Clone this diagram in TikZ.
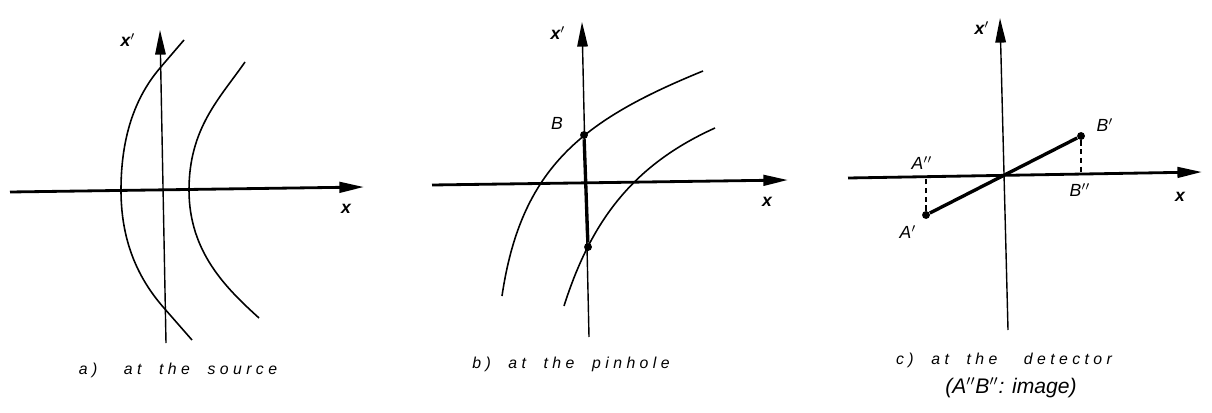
\documentclass[tikz,border=0pt]{standalone}
\usepackage{fontspec}
\newfontfamily\letterfont[LetterSpace=28]{Liberation Sans}
\newfontfamily\plainletter{Liberation Sans}
\usetikzlibrary{arrows.meta}

\begin{document}
\begin{tikzpicture}[x=0.02cm,y=-0.02cm,
  axis/.style={line width=1.6pt,-{Triangle[length=14pt,width=6pt]}},
  vaxis/.style={line width=0.8pt,-{Triangle[length=14pt,width=6pt]}},
  wave/.style={line width=0.9pt},
  ray/.style={line width=1.9pt},
  drop/.style={line width=0.6pt,dash pattern=on 3pt off 2pt},
  dot/.style={circle,fill,inner sep=0pt,minimum size=4.5pt},
  lbl/.style={font=\plainletter\itshape\fontsize{10}{11}\selectfont,inner sep=1pt},
  caption/.style={font=\letterfont\itshape\fontsize{9}{10}\selectfont,inner sep=0pt}]
  \useasboundingbox (0,0) rectangle (1212,412);

  % a) at the source
  \coordinate (ax0) at (10,192);  \coordinate (ax1) at (364,187);
  \coordinate (ay0) at (166,343); \coordinate (ay1) at (160,30);
  \draw[axis] (ax0) -- (ax1);
  \draw[vaxis] (ay0) -- (ay1);
  \draw[wave] (184,40) -- (160,68) .. controls (131,102) and (121,145) .. (121,190)
    .. controls (121,235) and (134,274) .. (164,308) -- (192,340);
  \draw[wave] (245,62) .. controls (220,98) and (189,128) .. (189,190)
    .. controls (189,252) and (226,288) .. (259,318);
  \node[lbl] (axl) at (128,40) {\bfseries x$'$};
  \node[lbl] (axx) at (346,209) {\bfseries x};
  \node[caption] (capa) at (178,370) {a)\ \ \ at\ \ the\ \ source};

  % b) at the pinhole
  \coordinate (bx0) at (432,185); \coordinate (bx1) at (788,180);
  \coordinate (by0) at (589,337); \coordinate (by1) at (582,22);
  \draw[axis] (bx0) -- (bx1);
  \draw[vaxis] (by0) -- (by1);
  \draw[wave] (502,296) .. controls (521,167) and (583,120) .. (703,71);
  \draw[wave] (564,306) .. controls (591,221) and (633,165) .. (715,128);
  \node[dot] (bB) at (584,135) {};
  \node[dot] (bA) at (588,247) {};
  \draw[ray] (bB) -- (bA);
  \node[lbl] (bxl) at (558,33) {\bfseries x$'$};
  \node[lbl] (bxx) at (767,202) {\bfseries x};
  \node[lbl] (bBl) at (557,123) {B};
  \node[caption] (capb) at (571,364) {b)\ \ at\ \ the\ \ pinhole};

  % c) at the detector
  \coordinate (cx0) at (848,178);  \coordinate (cx1) at (1202,172);
  \coordinate (cy0) at (1008,330); \coordinate (cy1) at (1000,18);
  \draw[axis] (cx0) -- (cx1);
  \draw[vaxis] (cy0) -- (cy1);
  \node[dot] (cA) at (926,215) {};
  \node[dot] (cB) at (1081,136) {};
  \coordinate (cAf) at (926,178);
  \coordinate (cBf) at (1081,174);
  \draw[ray] (cA) -- (cB);
  \draw[drop] (cA) -- (cAf);
  \draw[drop] (cB) -- (cBf);
  \node[lbl] (cxl) at (982,28) {\bfseries x$'$};
  \node[lbl] (cxx) at (1180,197) {\bfseries x};
  \node[lbl] (cBl) at (1105,125) {B$'$};
  \node[lbl] (cAl) at (908,232) {A$'$};
  \node[lbl] (cAAl) at (922,163) {A$''$};
  \node[lbl] (cBBl) at (1080,190) {B$''$};
  \node[caption] (capc) at (1004,360) {c)\ \ at\ \ the\ \ \ detector};
  \node[caption,font=\plainletter\itshape\fontsize{12}{14}\selectfont] (capd) at (1011,388) {(A$''$B$''$: image)};
\end{tikzpicture}
\end{document}
